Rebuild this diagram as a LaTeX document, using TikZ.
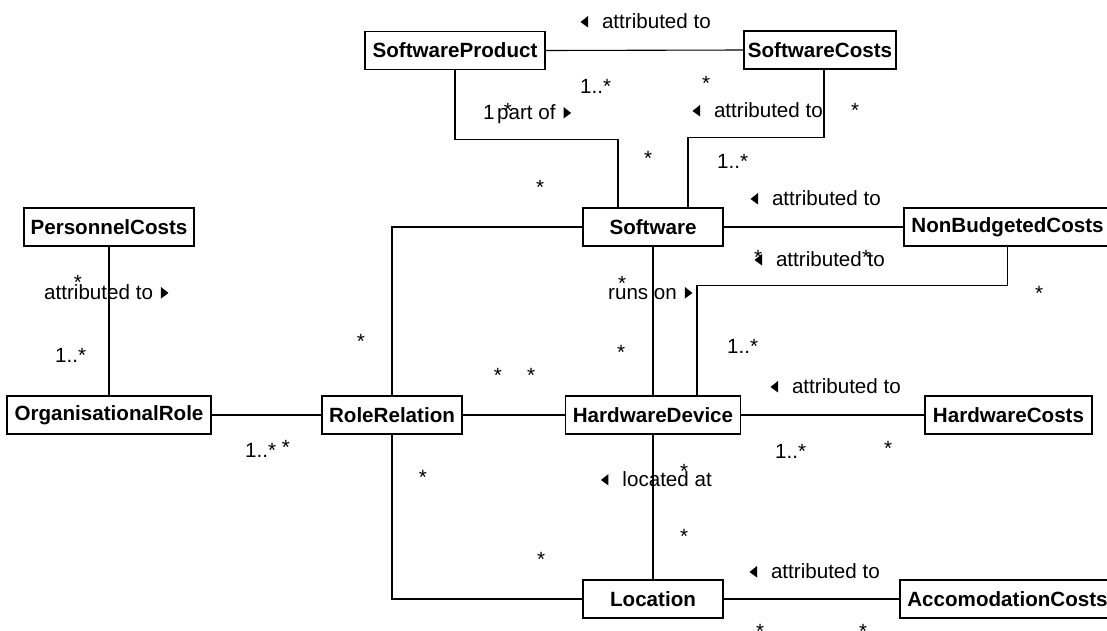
\documentclass[tikz,border=0pt]{standalone}
\usepackage{fontspec}
\setmainfont{Liberation Sans}
\usetikzlibrary{positioning}
\def \fs {\fontsize{20.6pt}{24pt}\selectfont}
\newcommand\tril{\tikz[baseline=-0.5pt,x=1pt,y=1pt]\fill (0,5.5) -- (7.5,11.5) -- (7.5,0) -- cycle;\hspace{14pt}}
\newcommand\trir{\hspace{8pt}\tikz[baseline=-0.5pt,x=1pt,y=1pt]\fill (0,0) -- (0,11.5) -- (7.5,5.5) -- cycle;}
\tikzset{
  cls/.style={draw,line width=1.8pt,font=\fs\bfseries,minimum height=38pt,inner sep=0pt},
  lbl/.style={font=\fs,inner sep=0pt},
  mult/.style={font=\fs,inner sep=0pt,anchor=base},
  conn/.style={line width=1.1pt}
}

\begin{document}
\begin{tikzpicture}[x=1pt,y=-1pt]
    \clip (0,0) rectangle (1107,630);
    \node[cls,minimum width=180pt] (SP) at (455,50.5) {SoftwareProduct};
    \node[cls,minimum width=152pt] (SC) at (820,50) {SoftwareCosts};
    \node[cls,minimum width=140pt] (SW) at (653,227) {Software};
    \node[cls,minimum width=207pt] (NB) at (1007.5,227) {NonBudgetedCosts};
    \node[cls,minimum width=170pt] (PC) at (109,227) {PersonnelCosts};
    \node[cls,minimum width=204pt] (OR) at (109,415) {OrganisationalRole};
    \node[cls,minimum width=140pt] (RR) at (392,415) {RoleRelation};
    \node[cls,minimum width=175pt] (HD) at (653,415) {HardwareDevice};
    \node[cls,minimum width=167pt] (HC) at (1008.5,415) {HardwareCosts};
    \node[cls,minimum width=140pt] (LO) at (653,599) {Location};
    \node[cls,minimum width=215pt] (AC) at (1007.5,599) {AccomodationCosts};

    \draw[conn] (SP.east) -- (SC.west);
    \draw[conn] (SP.south) |- ([xshift=-35pt,yshift=68pt]SW.north) -- ([xshift=-35pt]SW.north);
    \draw[conn] ([xshift=4pt]SC.south) |- ([xshift=35pt,yshift=70pt]SW.north) -- ([xshift=35pt]SW.north);
    \draw[conn] (SW.east) -- (NB.west);
    \draw[conn] (SW.west) -| (RR.north);
    \draw[conn] (SW.south) -- (HD.north);
    \draw[conn] (NB.south) |- ([xshift=44pt,yshift=110pt]HD.north) -- ([xshift=44pt]HD.north);
    \draw[conn] (HD.east) -- (HC.west);
    \draw[conn] (HD.south) -- (LO.north);
    \draw[conn] (RR.east) -- (HD.west);
    \draw[conn] (OR.east) -- (RR.west);
    \draw[conn] (PC.south) -- (OR.north);
    \draw[conn] (RR.south) |- (LO.west);
    \draw[conn] (LO.east) -- (AC.west);

    \node[lbl,anchor=base east] (a1) at (711,28) {\tril attributed to};
    \node[lbl,anchor=base west] (a2) at (497,119) {part of\trir};
    \node[lbl,anchor=base east] (a3) at (823,117) {\tril attributed to};
    \node[lbl,anchor=base east] (a4) at (881,205) {\tril attributed to};
    \node[lbl,anchor=base east] (a5) at (885,266) {\tril attributed to};
    \node[lbl,anchor=base west] (a6) at (608,299) {runs on\trir};
    \node[lbl,anchor=base west] (a7) at (44,299) {attributed to\trir};
    \node[lbl,anchor=base east] (a8) at (901,393) {\tril attributed to};
    \node[lbl,anchor=base east] (a9) at (712,486) {\tril located at};
    \node[lbl,anchor=base east] (a10) at (880,578) {\tril attributed to};

    \node[mult,anchor=base west] (m1) at (580,93) {1..*};
    \node[mult] (m2) at (706,90) {*};
    \node[mult,anchor=base west] (m3) at (483,119) {1};
    \node[mult] (m4) at (508,117) {*};
    \node[mult] (m5) at (855,117) {*};
    \node[mult] (m6) at (648,165) {*};
    \node[mult,anchor=base west] (m7) at (717,168) {1..*};
    \node[mult] (m8) at (540,194) {*};
    \node[mult] (m9) at (758,264) {*};
    \node[mult] (m10) at (866,264) {*};
    \node[mult] (m11) at (1039,300) {*};
    \node[mult] (m12) at (622,290) {*};
    \node[mult] (m13) at (621,359) {*};
    \node[mult,anchor=base west] (m14) at (727,353) {1..*};
    \node[mult,anchor=base west] (m15) at (775,458) {1..*};
    \node[mult] (m16) at (888,455) {*};
    \node[mult] (m17) at (684,478) {*};
    \node[mult] (m18) at (684,543) {*};
    \node[mult] (m19) at (423,484) {*};
    \node[mult] (m20) at (541,566) {*};
    \node[mult] (m21) at (760,638) {*};
    \node[mult] (m22) at (863,638) {*};
    \node[mult] (m23) at (78,289) {*};
    \node[mult,anchor=base west] (m24) at (55,362) {1..*};
    \node[mult] (m25) at (361,348) {*};
    \node[mult] (m26) at (498,382) {*};
    \node[mult] (m27) at (531,382) {*};
    \node[mult,anchor=base west] (m28) at (245,457) {1..*};
    \node[mult] (m29) at (286,454) {*};
\end{tikzpicture}
\end{document}
